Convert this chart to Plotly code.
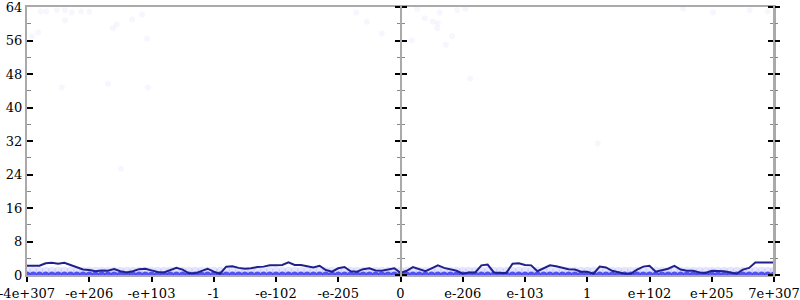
import numpy as np
import plotly.graph_objects as go

# ---- data ----
tick_vals = [-6, -5, -4, -3, -2, -1, 0, 1, 2, 3, 4, 5, 6]
tick_text = ["-4e+307", "-e+206", "-e+103", "-1", "-e-102", "-e-205", "0",
             "e-206", "e-103", "1", "e+102", "e+205", "7e+307"]
y_ticks = [0, 8, 16, 24, 32, 40, 48, 56, 64]
y_minor = [4, 12, 20, 28, 36, 44, 52, 60]

line_x = np.linspace(-6, 6, 121)
line_y = [2.2, 2.2, 2.2, 2.8, 2.9, 2.7, 2.9, 2.4, 1.8, 1.3,
          1.2, 0.9, 1.1, 1.0, 1.4, 0.9, 0.6, 0.9, 1.4, 1.5,
          1.1, 0.7, 0.6, 1.1, 1.7, 1.3, 0.4, 0.4, 0.9, 1.5,
          0.8, 0.3, 2.0, 2.1, 1.7, 1.5, 1.6, 1.9, 2.0, 2.3,
          2.3, 2.4, 3.0, 2.4, 2.4, 2.1, 1.8, 2.2, 1.2, 0.8,
          1.6, 1.9, 0.9, 0.8, 1.4, 1.6, 1.1, 1.0, 1.3, 1.6,
          0.5, 1.0, 1.9, 1.4, 0.9, 1.6, 2.3, 1.7, 1.4, 1.0,
          0.3, 0.6, 0.6, 2.3, 2.5, 0.6, 0.5, 0.5, 2.7, 2.8,
          2.4, 2.3, 0.9, 1.6, 2.3, 2.1, 1.7, 1.4, 1.3, 0.8,
          0.8, 0.3, 2.0, 1.8, 1.0, 0.6, 0.3, 0.3, 1.3, 2.0,
          2.2, 0.8, 1.1, 1.5, 2.2, 1.3, 1.0, 1.0, 0.6, 0.5,
          1.0, 1.0, 0.9, 0.6, 0.3, 1.3, 1.7, 3.0, 3.0, 3.0, 3.0]

zero_y = [0] * len(line_x)
one_y = [1] * len(line_x)

high_x = [-5.92, -5.82, -5.78, -5.69, -5.52, -5.39, -5.39, -5.28, -5.13, -5.00,
          -4.62, -4.56, -4.31, -4.15, -4.07, -5.44, -4.70, -4.06, -4.49,
          -0.71, -0.54, -0.30, 0.18, 0.27, 0.39, 0.52, 0.60, 0.59, 0.83,
          0.73, 0.63, 0.91, 1.04, 5.02, 5.61, 5.90, 4.54, 1.12, 3.17]
high_y = [57.0, 57.9, 62.9, 62.9, 63.2, 60.8, 63.2, 62.7, 62.9, 62.9,
          58.9, 59.8, 61.0, 62.2, 56.5, 44.8, 45.7, 44.8, 25.4,
          62.7, 60.5, 57.7, 56.0, 63.6, 61.3, 60.5, 60.1, 58.9, 57.0,
          55.0, 62.7, 63.2, 63.6, 62.7, 63.2, 62.9, 63.6, 46.9, 31.4]

FONT = dict(family="DejaVu Serif", size=13, color="black")
GRAY = "#aaaaaa"

fig = go.Figure()
fig.add_trace(go.Scatter(x=line_x, y=one_y, mode="markers",
                         marker=dict(size=8, color="rgba(0,0,255,0.10)", line=dict(width=0)),
                         hoverinfo="skip"))
fig.add_trace(go.Scatter(x=high_x, y=high_y, mode="markers",
                         marker=dict(size=6, color="rgba(0,0,255,0.035)", line=dict(width=0)),
                         hoverinfo="skip"))
fig.add_trace(go.Scatter(x=line_x, y=zero_y, mode="markers",
                         marker=dict(size=7, color="rgba(20,20,235,0.7)", line=dict(width=0)),
                         hoverinfo="skip"))
fig.add_trace(go.Scatter(x=line_x, y=line_y, mode="lines",
                         line=dict(color="#20208c", width=2), hoverinfo="skip"))

# invisible traces so the extra axes are drawn
for ax in ["y2", "y3", "y4", "y5"]:
    fig.add_trace(go.Scatter(x=line_x, y=line_y, yaxis=ax, mode="lines",
                             line=dict(width=0), opacity=0, hoverinfo="skip"))

minor_common = dict(tickvals=y_minor, ticklen=3, tickcolor="#888888", tickwidth=1)

def extra_axis(pos, side, ticks):
    return dict(overlaying="y", anchor="free", position=pos, side=side,
                range=[0, 64], tickvals=y_ticks, ticks=ticks, ticklen=5,
                tickcolor="black", tickwidth=1.5, showticklabels=False,
                showline=True, linecolor=GRAY, linewidth=2,
                showgrid=False, zeroline=False, automargin=False,
                minor=dict(ticks=ticks, **minor_common))

fig.update_layout(
    width=800, height=300,
    margin=dict(l=27, r=26, t=7, b=25, autoexpand=False),
    plot_bgcolor="white", paper_bgcolor="white",
    showlegend=False,
    xaxis=dict(range=[-6, 6], tickvals=tick_vals, ticktext=tick_text,
               ticks="outside", ticklen=5, tickcolor="black", tickwidth=1.5,
               showline=True, linecolor=GRAY, linewidth=2, mirror=True,
               showgrid=False, zeroline=False, tickfont=FONT,
               ticklabeloverflow="allow", automargin=False),
    yaxis=dict(range=[0, 64], tickvals=y_ticks, ticks="inside", ticklen=6,
               tickcolor="black", tickwidth=1.5,
               showline=True, linecolor=GRAY, linewidth=2, mirror=True,
               showgrid=False, zeroline=False, tickfont=FONT,
               ticklabeloverflow="allow", automargin=False,
               minor=dict(ticks="inside", ticklen=4, tickvals=y_minor,
                          tickcolor="#888888", tickwidth=1)),
    yaxis2=extra_axis(0.5, "left", "outside"),
    yaxis3=extra_axis(0.5, "right", "outside"),
    yaxis4=extra_axis(1.0, "left", "outside"),
    yaxis5=extra_axis(1.0, "right", "outside"),
)

fig.write_html("out.html")
